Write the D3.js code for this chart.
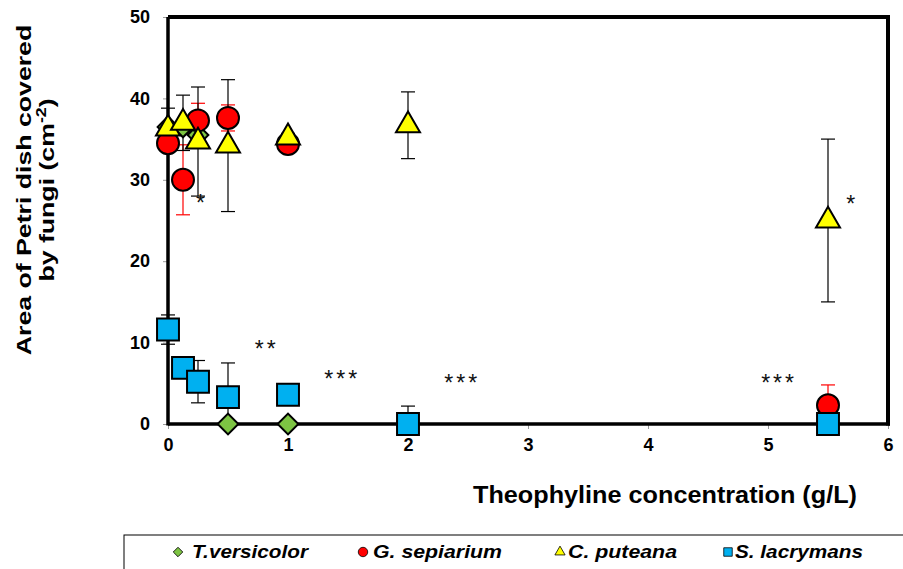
<!DOCTYPE html>
<html>
<head>
<meta charset="utf-8">
<script src="https://cdn.jsdelivr.net/npm/d3@7"></script>
<style>
  body { margin: 0; background: #fff; }
  svg { font-family: "Liberation Sans", Arial, sans-serif; }
</style>
</head>
<body>
<div id="chart"></div>
<script>
// concentrations (g/L)
const concentrations = [0, 0.125, 0.25, 0.5, 1, 2, 5.5];

// area covered (cm^2) per fungus, null = not plotted
const tVersicolor = [36.5, 36.5, 35.5, 0, 0, 0, 0];
const tVersicolorErr = [0, 0, 0, 0, 0, 0, 0];
const gSepiarium = [34.5, 30.0, 37.3, 37.6, 34.4, null, 2.3];
const gSepiariumErr = [0.8, 4.3, 2.1, 1.6, 0.5, null, 2.5];
const cPuteana = [36.3, 37.0, 34.7, 34.2, 35.2, 36.7, 25.0];
const cPuteanaErr = [2.5, 3.4, 6.7, 8.1, 0.5, 4.1, 10.0];
const sLacrymans = [11.6, 6.9, 5.2, 3.3, 3.6, 0, 0];
const sLacrymansErr = [1.8, 0.8, 2.6, 4.2, 0.3, 2.2, 0];

// significance marks
const annoX = [0.27, 0.81, 1.44, 2.44, 5.08, 5.69];
const annoY = [27.9, 9.9, 6.3, 5.8, 5.8, 27.8];
const annoText = ["*", "**", "***", "***", "***", "*"];

const xTicks = [0, 1, 2, 3, 4, 5, 6];
const yTicks = [0, 10, 20, 30, 40, 50];

const legendNames = ['T.versicolor', 'G. sepiarium', 'C. puteana', 'S. lacrymans'];

const width = 903, height = 569;
const svg = d3.select('#chart').append('svg')
  .attr('width', width)
  .attr('height', height);

const x = d3.scaleLinear().domain([0, 6]).range([168, 888]);
const y = d3.scaleLinear().domain([0, 50]).range([424, 17]);

// axes
const xAxis = svg.append('g')
  .attr('transform', `translate(0,${y(0)})`)
  .call(d3.axisBottom(x).tickValues(xTicks).tickSize(5).tickPadding(9).tickFormat(d3.format('d')));
xAxis.select('.domain').remove();
xAxis.selectAll('line').attr('stroke', '#999');
xAxis.selectAll('text')
  .attr('fill', '#000')
  .attr('font-size', '18px')
  .attr('font-weight', 'bold')
  .attr('font-family', '"Liberation Sans", Arial, sans-serif');

const yAxis = svg.append('g')
  .attr('transform', `translate(${x(0)},0)`)
  .call(d3.axisLeft(y).tickValues(yTicks).tickSize(5).tickPadding(13));
yAxis.select('.domain').remove();
yAxis.selectAll('line').attr('stroke', '#999');
yAxis.selectAll('text')
  .attr('fill', '#000')
  .attr('font-size', '18px')
  .attr('font-weight', 'bold')
  .attr('font-family', '"Liberation Sans", Arial, sans-serif');

// frame
svg.append('line').attr('x1', x(0)).attr('x2', x(0)).attr('y1', y(50)).attr('y2', y(0) + 1.5)
  .attr('stroke', '#000').attr('stroke-width', 3.5);
svg.append('line').attr('x1', x(0)).attr('x2', x(6) + 2).attr('y1', y(0)).attr('y2', y(0))
  .attr('stroke', '#000').attr('stroke-width', 3.5);
svg.append('line').attr('x1', x(0)).attr('x2', x(6) + 2).attr('y1', y(50)).attr('y2', y(50))
  .attr('stroke', '#000').attr('stroke-width', 4);
svg.append('line').attr('x1', x(6)).attr('x2', x(6)).attr('y1', y(50)).attr('y2', y(0) + 1.5)
  .attr('stroke', '#000').attr('stroke-width', 4);

// series
const series = [
  { vals: tVersicolor, err: tVersicolorErr, color: '#7dc443', errColor: '#000', shape: d3.symbolSquare, rot: 45, size: 215, legSize: 45 },
  { vals: gSepiarium, err: gSepiariumErr, color: '#ff0000', errColor: '#ff0000', shape: d3.symbolCircle, rot: 0, size: 380, legSize: 70 },
  { vals: cPuteana, err: cPuteanaErr, color: '#ffff00', errColor: '#000', shape: d3.symbolTriangle, rot: 0, size: 250, legSize: 45 },
  { vals: sLacrymans, err: sLacrymansErr, color: '#00b0f0', errColor: '#000', shape: d3.symbolSquare, rot: 0, size: 480, legSize: 72 }
];

function points(s) {
  return concentrations.map((c, i) => ({ c, v: s.vals[i], e: s.err[i] }))
    .filter(d => d.v !== null);
}

// error bars first, markers on top
series.forEach(s => {
  const g = svg.append('g');
  const pts = points(s).filter(d => d.e > 0);
  g.selectAll('.eb').data(pts).enter().append('line')
    .attr('x1', d => x(d.c)).attr('x2', d => x(d.c))
    .attr('y1', d => y(d.v + d.e)).attr('y2', d => y(Math.max(0, d.v - d.e)))
    .attr('stroke', s.errColor).attr('stroke-width', 1.2);
  g.selectAll('.cap1').data(pts).enter().append('line')
    .attr('x1', d => x(d.c) - 7).attr('x2', d => x(d.c) + 7)
    .attr('y1', d => y(d.v + d.e)).attr('y2', d => y(d.v + d.e))
    .attr('stroke', s.errColor).attr('stroke-width', 1.2);
  g.selectAll('.cap2').data(pts.filter(d => d.v - d.e > 0)).enter().append('line')
    .attr('x1', d => x(d.c) - 7).attr('x2', d => x(d.c) + 7)
    .attr('y1', d => y(d.v - d.e)).attr('y2', d => y(d.v - d.e))
    .attr('stroke', s.errColor).attr('stroke-width', 1.2);
});

series.forEach(s => {
  const sym = d3.symbol().type(s.shape).size(s.size);
  svg.append('g').selectAll('path').data(points(s)).enter().append('path')
    .attr('d', sym)
    .attr('transform', d => `translate(${x(d.c)},${y(d.v)}) rotate(${s.rot})`)
    .attr('fill', s.color)
    .attr('stroke', '#000')
    .attr('stroke-width', 2);
});

// significance asterisks
svg.append('g').selectAll('text').data(annoText).enter().append('text')
  .attr('x', (d, i) => x(annoX[i]) + 1.5)
  .attr('y', (d, i) => y(annoY[i]) + 14)
  .attr('text-anchor', 'middle')
  .attr('font-size', '23px')
  .attr('letter-spacing', '3px')
  .attr('fill', '#111')
  .text(d => d);

// axis titles
svg.append('text')
  .attr('x', 473).attr('y', 503)
  .attr('font-size', '24px')
  .attr('font-weight', 'bold')
  .attr('textLength', 384)
  .attr('lengthAdjust', 'spacingAndGlyphs')
  .text('Theophyline concentration (g/L)');

const yt = svg.append('text')
  .attr('transform', 'translate(31,190) rotate(-90) scale(1.27,1)')
  .attr('text-anchor', 'middle')
  .attr('font-size', '21px')
  .attr('font-weight', 'bold');
yt.append('tspan').attr('x', 0).attr('y', 0).text('Area of Petri dish covered');
const t2 = yt.append('tspan').attr('x', 0).attr('y', 23);
t2.append('tspan').text('by fungi (cm');
t2.append('tspan').attr('font-size', '14px').attr('dy', -8).text('-2');
t2.append('tspan').attr('dy', 8).text(')');

// legend
svg.append('rect')
  .attr('x', 124).attr('y', 535).attr('width', 800).attr('height', 50)
  .attr('fill', 'none').attr('stroke', '#000').attr('stroke-width', 1);

const legendMarkX = [178, 363, 560, 728];
const legendTextX = [192, 373, 568, 735];
const legendTextW = [116, 129, 109, 128];
series.forEach((s, i) => {
  const sym = d3.symbol().type(s.shape).size(s.legSize);
  svg.append('path')
    .attr('d', sym)
    .attr('transform', `translate(${legendMarkX[i]},${552}) rotate(${s.rot})`)
    .attr('fill', s.color)
    .attr('stroke', '#000')
    .attr('stroke-width', 0.8);
  svg.append('text')
    .attr('x', legendTextX[i]).attr('y', 558)
    .attr('font-size', '18px')
    .attr('font-weight', 'bold')
    .attr('font-style', 'italic')
    .attr('textLength', legendTextW[i])
    .attr('lengthAdjust', 'spacingAndGlyphs')
    .text(legendNames[i]);
});
</script>
</body>
</html>
